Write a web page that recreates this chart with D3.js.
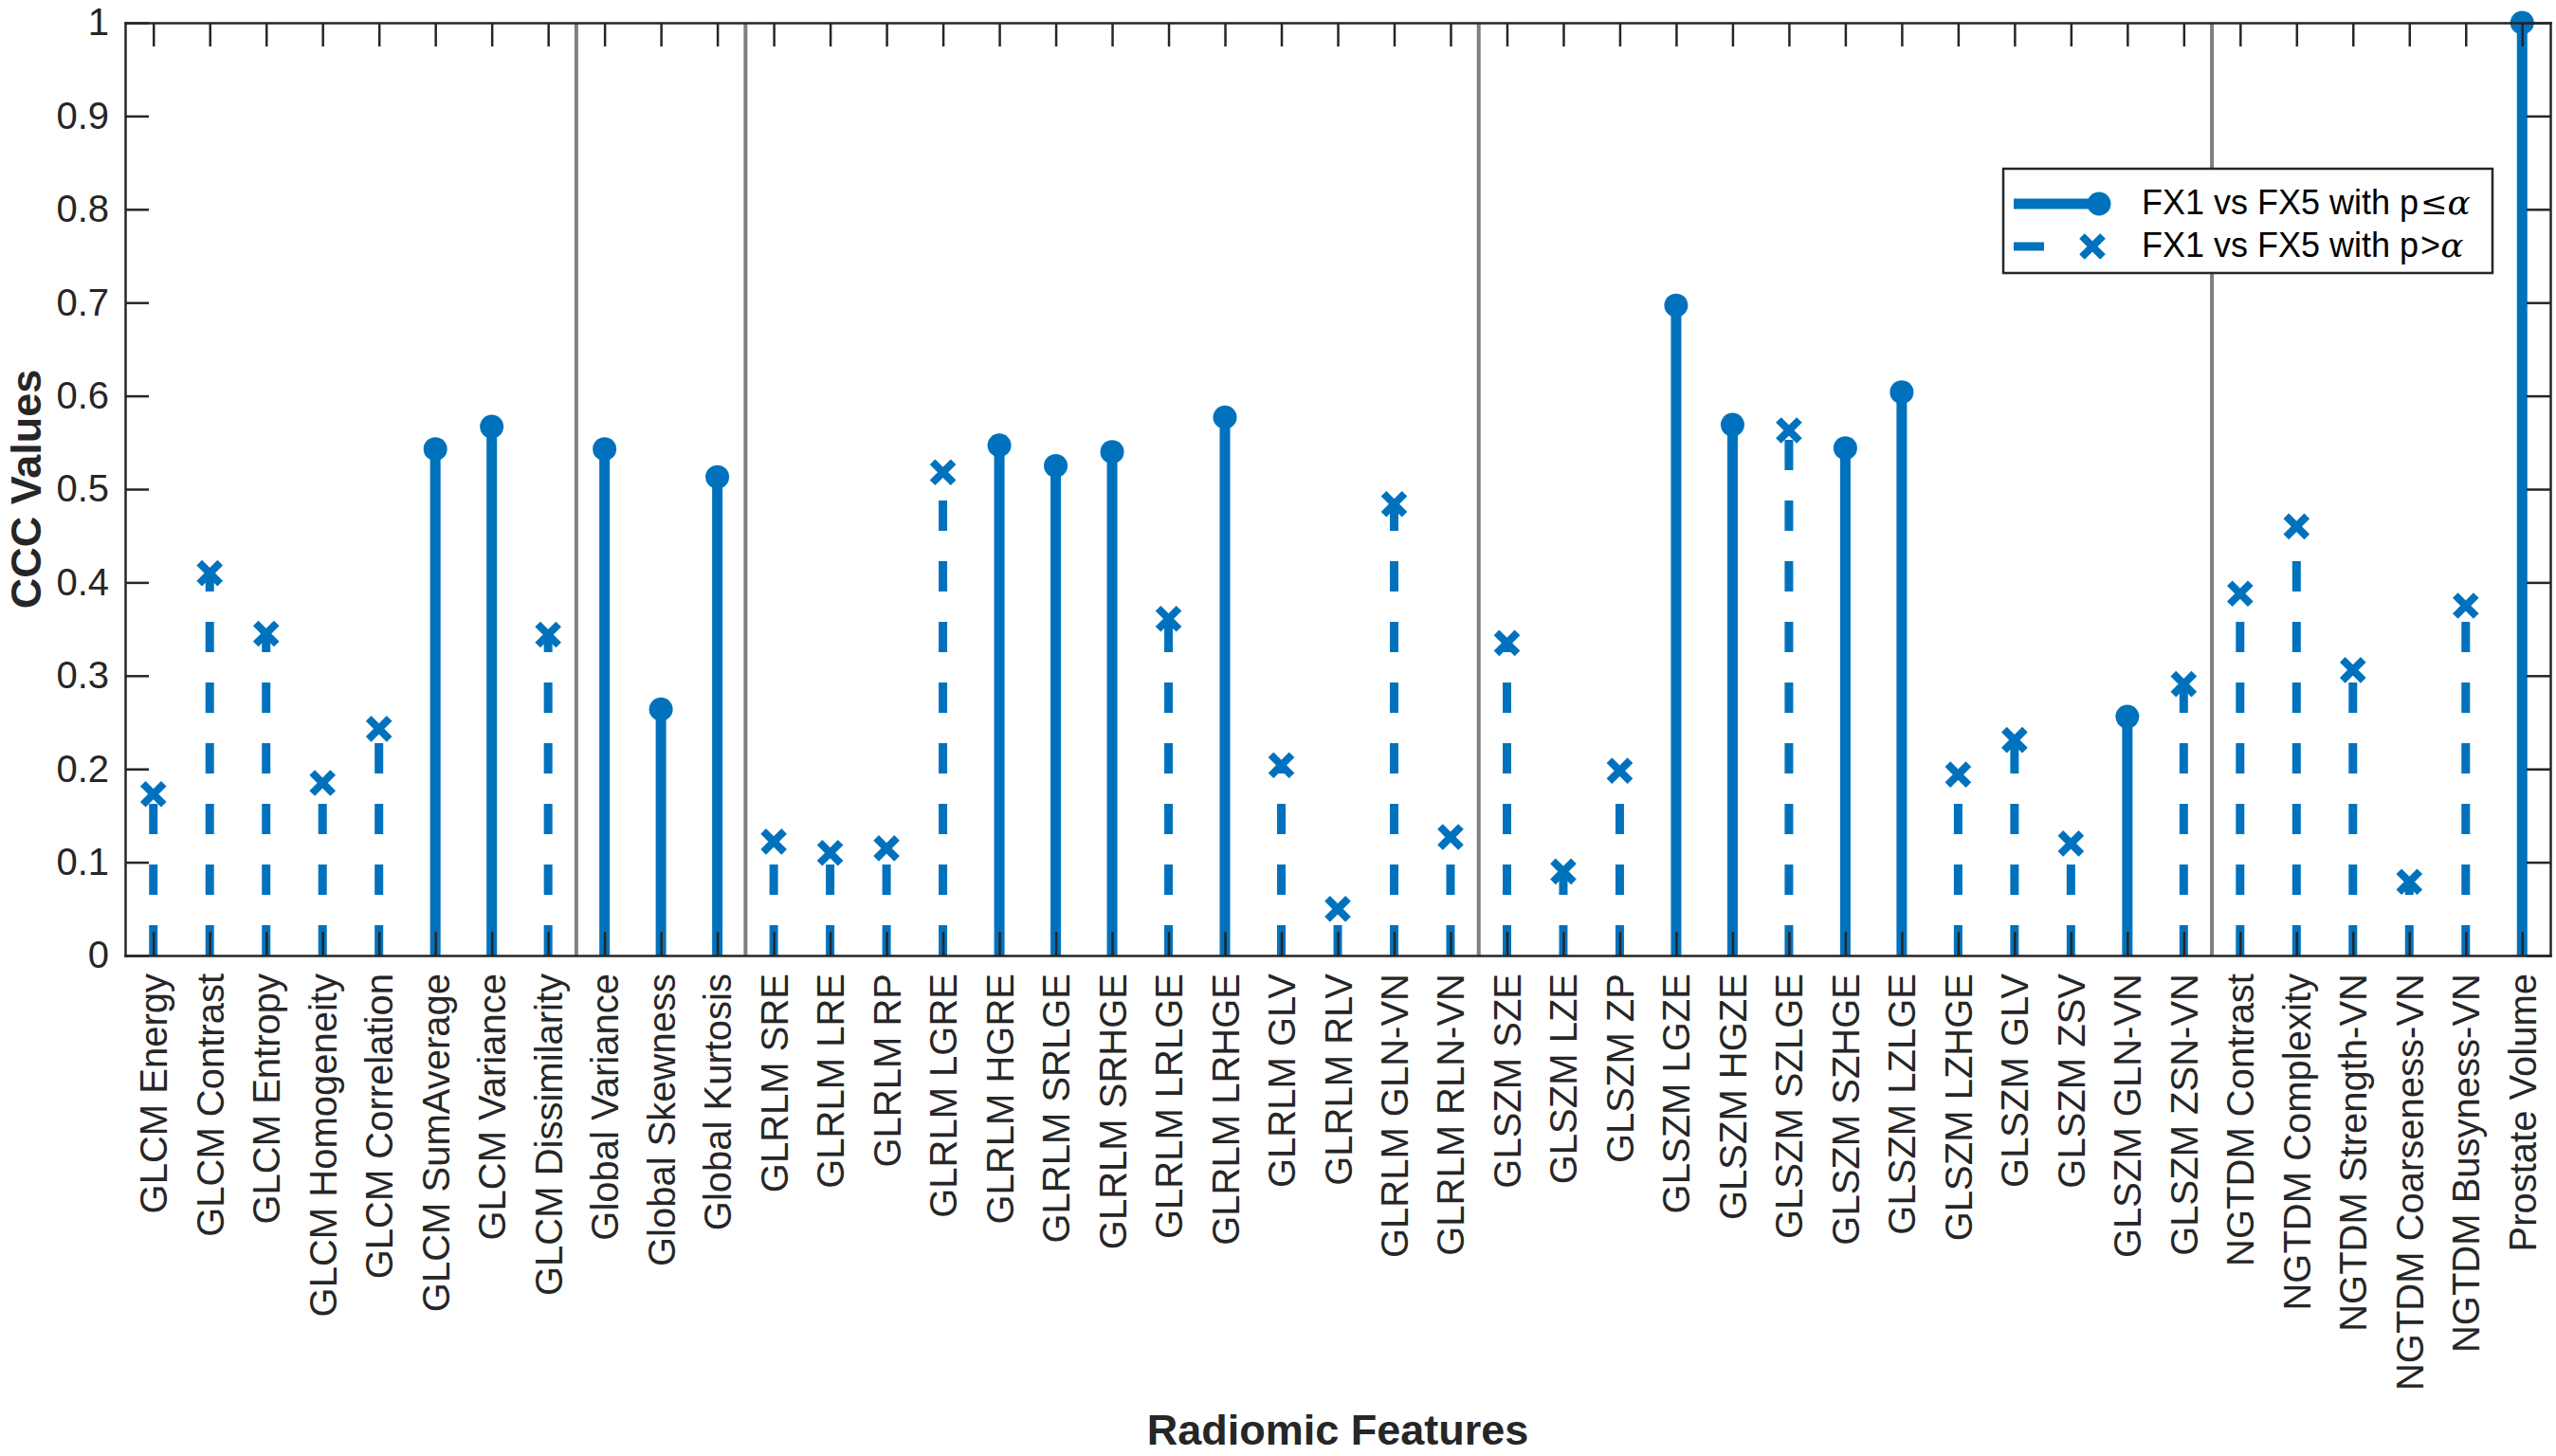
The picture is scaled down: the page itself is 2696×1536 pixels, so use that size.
<!DOCTYPE html>
<html>
<head>
<meta charset="utf-8">
<script src="https://cdn.jsdelivr.net/npm/d3@7"></script>
<style>
  body { margin: 0; background: #fff; }
  svg { display: block; font-family: "Liberation Sans", Arial, Helvetica, sans-serif; }
</style>
</head>
<body>
<script>
// CCC values per radiomic feature, FX1 vs FX5
const categories = [
  "GLCM Energy", "GLCM Contrast", "GLCM Entropy", "GLCM Homogeneity", "GLCM Correlation",
  "GLCM SumAverage", "GLCM Variance", "GLCM Dissimilarity",
  "Global Variance", "Global Skewness", "Global Kurtosis",
  "GLRLM SRE", "GLRLM LRE", "GLRLM RP", "GLRLM LGRE", "GLRLM HGRE", "GLRLM SRLGE",
  "GLRLM SRHGE", "GLRLM LRLGE", "GLRLM LRHGE", "GLRLM GLV", "GLRLM RLV", "GLRLM GLN-VN", "GLRLM RLN-VN",
  "GLSZM SZE", "GLSZM LZE", "GLSZM ZP", "GLSZM LGZE", "GLSZM HGZE", "GLSZM SZLGE",
  "GLSZM SZHGE", "GLSZM LZLGE", "GLSZM LZHGE", "GLSZM GLV", "GLSZM ZSV", "GLSZM GLN-VN", "GLSZM ZSN-VN",
  "NGTDM Contrast", "NGTDM Complexity", "NGTDM Strength-VN", "NGTDM Coarseness-VN", "NGTDM Busyness-VN",
  "Prostate Volume"
];
const cccValues = [
  0.173, 0.410, 0.345, 0.185, 0.243, 0.543, 0.567, 0.344,
  0.543, 0.264, 0.513,
  0.122, 0.110, 0.115, 0.518, 0.547, 0.525, 0.540, 0.361, 0.577, 0.204, 0.050, 0.484, 0.127,
  0.335, 0.090, 0.198, 0.697, 0.569, 0.563, 0.544, 0.604, 0.194, 0.231, 0.120, 0.256, 0.291,
  0.388, 0.460, 0.306, 0.079, 0.375,
  1.0
];
// true: p <= alpha (solid stem), false: p > alpha (dashed stem)
const significant = [
  false, false, false, false, false, true, true, false,
  true, true, true,
  false, false, false, false, true, true, true, false, true, false, false, false, false,
  false, false, false, true, true, false, true, true, false, false, false, true, false,
  false, false, false, false, false,
  true
];
// feature families, separators drawn between them (last family includes Prostate Volume)
const groupSizes = [8, 3, 13, 13, 6];
const yTicks = [0, 0.1, 0.2, 0.3, 0.4, 0.5, 0.6, 0.7, 0.8, 0.9, 1];
const legendLabels = ["FX1 vs FX5 with p", "FX1 vs FX5 with p"];
const legendSymbols = ["≤", ">"];

const W = 2696, H = 1536;
const margin = { left: 132, right: 6, top: 24, bottom: 528 };
const blue = "#0072BD", axisColor = "#262626";
const font = "'Liberation Sans', Arial, Helvetica, sans-serif";

const svg = d3.select("body").append("svg")
  .attr("width", W).attr("height", H)
  .attr("viewBox", `0 0 ${W} ${H}`);
svg.append("rect").attr("width", W).attr("height", H).attr("fill", "#fff");

const x = d3.scalePoint()
  .domain(categories)
  .range([margin.left, W - margin.right])
  .padding(0.5);
const y = d3.scaleLinear()
  .domain([0, 1])
  .range([H - margin.bottom, margin.top]);
const step = x.step();

// family separators
let cum = 0;
const sepIdx = [];
groupSizes.slice(0, -1).forEach(n => { cum += n; sepIdx.push(cum - 1); });
svg.append("g").selectAll("line")
  .data(sepIdx)
  .join("line")
  .attr("x1", i => x(categories[i]) + step / 2)
  .attr("x2", i => x(categories[i]) + step / 2)
  .attr("y1", y(0)).attr("y2", y(1))
  .attr("stroke", "#7f7f7f").attr("stroke-width", 4);

const data = categories.map((c, i) => ({ c, v: cccValues[i], sig: significant[i] }));

// stems
svg.append("g").selectAll("line")
  .data(data)
  .join("line")
  .attr("x1", d => x(d.c)).attr("x2", d => x(d.c))
  .attr("y1", y(0)).attr("y2", d => y(d.v))
  .attr("stroke", blue)
  .attr("stroke-width", d => d.sig ? 11 : 9)
  .attr("stroke-dasharray", d => d.sig ? null : "32,32");

// markers
const xPath = "M-11,-11L11,11M-11,11L11,-11";
const marks = svg.append("g");
marks.selectAll("circle")
  .data(data.filter(d => d.sig))
  .join("circle")
  .attr("cx", d => x(d.c)).attr("cy", d => y(d.v))
  .attr("r", 12.5).attr("fill", blue);
marks.selectAll("path")
  .data(data.filter(d => !d.sig))
  .join("path")
  .attr("transform", d => `translate(${x(d.c)},${y(d.v)})`)
  .attr("d", xPath)
  .attr("fill", "none").attr("stroke", blue).attr("stroke-width", 8);

// axes (box with inward ticks)
function styleAxis(g) {
  g.attr("font-family", font).attr("font-size", 40);
  g.select(".domain").attr("stroke", axisColor).attr("stroke-width", 2.5).attr("stroke-linecap", "square");
  g.selectAll(".tick line").attr("stroke", axisColor).attr("stroke-width", 2.5);
  g.selectAll("text").attr("fill", axisColor);
}
const yFmt = d3.format("~g");
svg.append("g")
  .attr("transform", `translate(${margin.left},0)`)
  .call(d3.axisLeft(y).tickValues(yTicks).tickFormat(yFmt).tickSizeInner(-25).tickSizeOuter(0).tickPadding(17))
  .call(styleAxis);
svg.append("g")
  .attr("transform", `translate(${W - margin.right},0)`)
  .call(d3.axisRight(y).tickValues(yTicks).tickFormat("").tickSizeInner(-25).tickSizeOuter(0))
  .call(styleAxis);
svg.append("g")
  .attr("transform", `translate(0,${margin.top})`)
  .call(d3.axisTop(x).tickFormat("").tickSizeInner(-25).tickSizeOuter(0))
  .call(styleAxis);
svg.append("g")
  .attr("transform", `translate(0,${H - margin.bottom})`)
  .call(d3.axisBottom(x).tickSizeInner(-25).tickSizeOuter(0))
  .call(styleAxis)
  .call(g => g.selectAll("text")
    .attr("transform", "rotate(-90)")
    .attr("x", -19).attr("y", 0).attr("dy", "0.35em")
    .attr("text-anchor", "end"));

// axis titles
svg.append("text")
  .attr("x", (margin.left + W - margin.right) / 2)
  .attr("y", 1524)
  .attr("text-anchor", "middle")
  .attr("font-size", 45).attr("font-weight", "bold").attr("fill", axisColor)
  .text("Radiomic Features");
svg.append("text")
  .attr("transform", `translate(43,${(y(0) + y(1)) / 2}) rotate(-90)`)
  .attr("text-anchor", "middle")
  .attr("font-size", 45).attr("font-weight", "bold").attr("fill", axisColor)
  .text("CCC Values");

// legend
const lg = svg.append("g").attr("transform", "translate(2113,178)");
lg.append("rect")
  .attr("width", 516).attr("height", 110)
  .attr("fill", "#fff").attr("stroke", axisColor).attr("stroke-width", 2.5);
const rowY = [37, 82];
lg.append("line")
  .attr("x1", 11).attr("x2", 101).attr("y1", rowY[0]).attr("y2", rowY[0])
  .attr("stroke", blue).attr("stroke-width", 11);
lg.append("circle").attr("cx", 101).attr("cy", rowY[0]).attr("r", 12.5).attr("fill", blue);
lg.append("line")
  .attr("x1", 11).attr("x2", 101).attr("y1", rowY[1]).attr("y2", rowY[1])
  .attr("stroke", blue).attr("stroke-width", 9).attr("stroke-dasharray", "32,200");
lg.append("path")
  .attr("transform", `translate(94,${rowY[1]})`)
  .attr("d", xPath)
  .attr("fill", "none").attr("stroke", blue).attr("stroke-width", 8);
legendLabels.forEach((lab, i) => {
  const t = lg.append("text")
    .attr("x", 146).attr("y", rowY[i] + 11)
    .attr("font-size", 36).attr("fill", "#000");
  t.append("tspan").text(lab);
  t.append("tspan")
    .attr("font-family", i === 0 ? "'DejaVu Serif', serif" : null)
    .attr("font-size", i === 0 ? 34 : 36)
    .attr("dx", 2)
    .text(legendSymbols[i]);
  t.append("tspan")
    .attr("font-family", "'DejaVu Serif', 'Liberation Serif', serif")
    .attr("font-style", "italic")
    .text("α");
});
</script>
</body>
</html>
